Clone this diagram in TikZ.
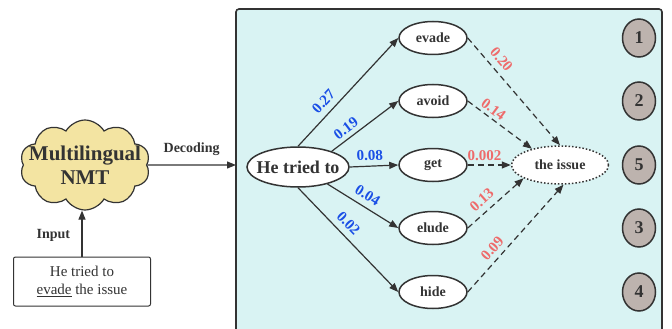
\documentclass[tikz,border=0pt]{standalone}
\usepackage{fontspec}
\setmainfont{Liberation Serif}
\usetikzlibrary{arrows.meta,positioning,shapes.geometric,shapes.symbols}
\definecolor{panel}{HTML}{D9F3F3}
\definecolor{cloudy}{HTML}{F3E4A2}
\definecolor{rank}{HTML}{BDB3AE}
\definecolor{ink}{HTML}{333333}
\definecolor{pblue}{HTML}{1A4FE6}
\definecolor{pred}{HTML}{EE6B6B}
\tikzset{
  >={Triangle[length=9pt,width=7pt]},
  panelbox/.style={draw=ink, line width=1.6pt, fill=panel, rounded corners=3pt},
  nmt/.style  ={cloud, cloud puffs=10, cloud puff arc=120, draw=ink, line width=1.2pt, fill=cloudy,
                minimum width=130pt, minimum height=90pt, inner sep=0pt},
  inbox/.style={draw=ink, line width=1pt, rounded corners=2pt, fill=white, minimum width=137pt,
                minimum height=49pt, align=center, font=\fontsize{15}{18}\selectfont, text=ink},
  wd/.style   ={ellipse, draw=ink, line width=1.5pt, fill=white, minimum width=68pt, minimum height=33pt,
                inner xsep=-10pt, inner ysep=0pt, font=\fontsize{14}{16}\selectfont\bfseries, text=ink},
  ctx/.style  ={wd, minimum width=102pt, minimum height=40pt, font=\fontsize{18}{20}\selectfont\bfseries},
  tgt/.style  ={wd, dotted, minimum width=97pt, minimum height=38pt},
  rk/.style   ={ellipse, draw=ink, line width=1.5pt, fill=rank, minimum width=33pt, minimum height=38pt,
                inner sep=0pt, font=\fontsize{18}{20}\selectfont\bfseries, text=ink},
  lab/.style  ={font=\fontsize{14}{16}\selectfont\bfseries, text=ink},
  go/.style   ={->, draw=ink, line width=1.2pt},
  maybe/.style={->, draw=ink, line width=1.2pt, dash pattern=on 6pt off 4pt},
  pb/.style   ={sloped, above, inner sep=6pt, font=\fontsize{15}{15}\selectfont\bfseries, text=pblue},
  pr/.style   ={sloped, above, inner sep=6pt, font=\fontsize{15}{15}\selectfont\bfseries, text=pred}
}
\begin{document}
\begin{tikzpicture}[x=1pt,y=-1pt]
\useasboundingbox (0,0) rectangle (672,329);
\clip (0,0) rectangle (672,329);
% decoding panel
\draw[panelbox] (236,9) rectangle (662,345);
\coordinate (pin) at (236,165);

% model and input
\node[nmt, label={[lab, font=\fontsize{21}{24}\selectfont\bfseries, align=center]center:Multilingual\\NMT}] (model) at (85,165) {};
\node[inbox] (src) at (82,281.5) {He tried to\\\underline{evade} the issue};
\draw[go] (src) -- node[lab, left=8pt, pos=.45] {Input} (src |- model.south);
\draw[go] (model) -- node[lab, above=5pt] {Decoding} (pin);

% candidates
\node[ctx] (ctx) at (298,167) {He tried to};
\foreach \w/\y in {evade/38, avoid/101, get/165, elude/228, hide/292}
  \node[wd] (\w) at (433,\y) {\w};
\node[tgt] (issue) at (560,165) {the issue};

% ranks
\foreach \w/\r in {evade/1, avoid/2, get/5, elude/3, hide/4}
  \node[rk, right=154pt of \w] {\r};

% word probabilities
\draw[go] (ctx.north) -- node[pb, pos=.34] {0.27} (evade.west);
\draw[go] (ctx.25)    -- node[pb, pos=.3, inner sep=4pt] {0.19} (avoid.west);
\draw[go] (ctx.east)  -- node[pb, pos=.42, inner sep=5pt] {0.08} (get.west);
\draw[go] (ctx.-30)   -- node[pb, pos=.48] {0.04} (elude.west);
\draw[go] (ctx.south) -- node[pb, pos=.42] {0.02} (hide.west);

% continuation probabilities
\draw[maybe] (evade.east) -- node[pr, pos=.27] {0.20} (issue.north);
\draw[maybe] (avoid.east) -- node[pr, pos=.32, inner sep=3pt] {0.14} (issue.150);
\draw[maybe] (get.east)   -- node[pr, pos=.39, inner sep=4pt] {0.002} (issue.west);
\draw[maybe] (elude.east) -- node[pr, pos=.39] {0.13} (issue.-160);
\draw[maybe] (hide.east)  -- node[pr, pos=.34, inner sep=5pt] {0.09} (issue.-80);
\end{tikzpicture}
\end{document}
